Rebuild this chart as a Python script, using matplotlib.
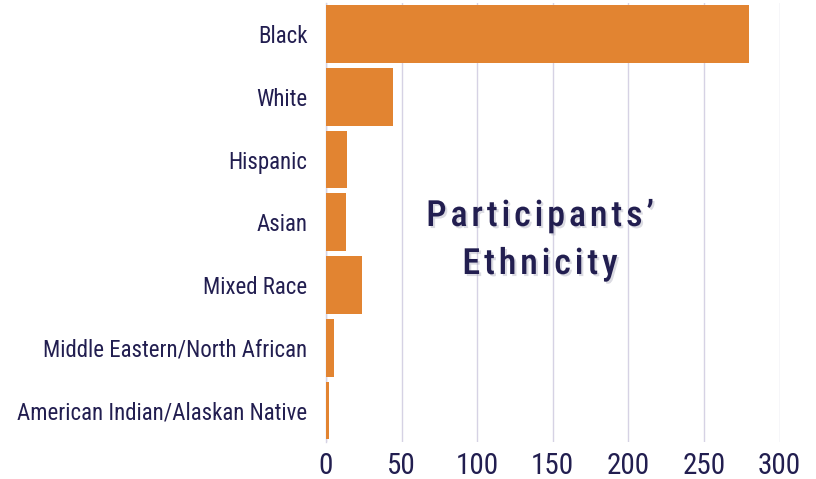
import numpy as np
import matplotlib.pyplot as plt
from matplotlib import font_manager
import matplotlib.patheffects as pe

# ---------- data ----------
categories = ["Black", "White", "Hispanic", "Asian", "Mixed Race",
              "Middle Eastern/North African", "American Indian/Alaskan Native"]
counts = [280, 44, 14, 13, 24, 5, 2]
x_ticks = [0, 50, 100, 150, 200, 250, 300]
title_lines = ["Participants\u2019", "Ethnicity"]

navy = "#221E50"
orange = "#E28431"
grid_c = "#D6D2E4"


def pick_font(names):
    for n in names:
        try:
            font_manager.findfont(font_manager.FontProperties(family=n),
                                  fallback_to_default=False)
            return n
        except Exception:
            continue
    return "DejaVu Sans"


cond = pick_font(["Liberation Sans Narrow", "DejaVu Sans Condensed",
                  "Roboto Condensed", "Roboto"])
plt.rcParams["font.family"] = [cond, "DejaVu Sans"]

fig = plt.figure(figsize=(8.16, 4.79), dpi=100)
ax = fig.add_axes([326 / 816, 1 - 442 / 479, (779.6 - 326) / 816, (442 - 2.6) / 479])

y = np.arange(len(categories))
ax.barh(y, counts, height=0.92, color=orange, zorder=3)
ax.set_ylim(len(categories) - 0.5, -0.5)
ax.set_xlim(0, 300)

ax.set_yticks(y)
ax.set_yticklabels(categories, fontsize=16.5, color=navy)
ax.set_xticks(x_ticks)
ax.set_xticklabels([str(t) for t in x_ticks], fontsize=21, color=navy)
ax.tick_params(axis="y", length=0, pad=13.5)
ax.tick_params(axis="x", length=0, pad=7)

ax.grid(True, axis="x", color=grid_c, lw=1.0, zorder=0)
for s in ("top", "right", "bottom"):
    ax.spines[s].set_visible(False)
ax.spines["left"].set_color(grid_c)
ax.spines["left"].set_linewidth(1.0)

# title, letter-spaced, with a soft shadow
shadow = [pe.SimplePatchShadow(offset=(1.5, -1.5), shadow_rgbFace="#9a98ad", alpha=0.35),
          pe.Normal()]
for i, line in enumerate(title_lines):
    spaced = "\u200a".join(line)
    ty = 1 - (216 + 48 * i) / 479
    fig.text(540 / 816, ty, spaced, fontsize=26, color=navy,
             ha="center", va="center", fontweight="medium", path_effects=shadow)

fig.savefig("out.png", dpi=100, facecolor="white")
